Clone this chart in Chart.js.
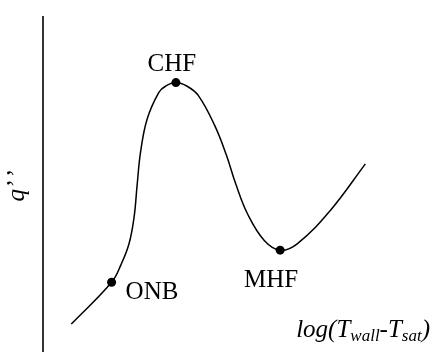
<!DOCTYPE html>
<html>
<head>
<meta charset="utf-8">
<script src="https://cdn.jsdelivr.net/npm/chart.js@4/dist/chart.umd.min.js"></script>
<style>
  body { margin: 0; background: #fff; }
  #wrap { width: 435px; height: 356px; position: relative; }
</style>
</head>
<body>
<div id="wrap"><canvas id="chart1"></canvas></div>
<script>
// boiling curve (arbitrary units 0-100)
var curveX = [7.3, 17.7, 20.1, 22.2, 23.5, 24.3, 25.2, 26.9, 29.9, 31.6, 34.3, 37.2, 40.1, 44.3, 47.3, 49.8, 52.8, 57.1, 61.2, 65.6, 74.1, 83.2];
var curveY = [8.2, 20.7, 25.9, 32.2, 40.1, 49.9, 59.8, 69.6, 77.5, 79.3, 80.4, 79.3, 76.5, 67.6, 58.8, 49.9, 41.1, 33.2, 30.3, 32.2, 42.1, 56.1];

// marked points
var pointNames = ['ONB', 'CHF', 'MHF'];
var pointX = [17.7, 34.3, 61.2];
var pointY = [20.7, 80.4, 30.3];

var yTitle = 'q\u2019\u200A\u2019';
var xTitle = [['log(T', false], ['wall', true], ['-T', false], ['sat', true], [')', false]];

var serif = "'Liberation Serif', 'Times New Roman', serif";

// label offsets from the dot: [dx, dy, align]
var labelPos = {
  ONB: [14, 17, 'left'],
  CHF: [-4, -12, 'center'],
  MHF: [-9, 37, 'center']
};

var textPlugin = {
  id: 'texts',
  afterDatasetsDraw: function(chart) {
    var ctx = chart.ctx;
    var meta = chart.getDatasetMeta(1);
    ctx.save();
    ctx.fillStyle = '#000';
    ctx.font = '25px ' + serif;
    ctx.textBaseline = 'alphabetic';
    meta.data.forEach(function(pt, i) {
      var name = pointNames[i];
      var p = labelPos[name];
      ctx.textAlign = p[2];
      ctx.fillText(name, pt.x + p[0], pt.y + p[1]);
    });

    // x title with subscripts, right aligned
    ctx.textAlign = 'left';
    var total = 0;
    xTitle.forEach(function(part) {
      ctx.font = 'italic ' + (part[1] ? 17 : 25) + 'px ' + serif;
      total += ctx.measureText(part[0]).width;
    });
    var x = chart.width - 5 - total;
    var base = chart.height - 19;
    xTitle.forEach(function(part) {
      ctx.font = 'italic ' + (part[1] ? 17 : 25) + 'px ' + serif;
      ctx.fillText(part[0], x, part[1] ? base + 4 : base);
      x += ctx.measureText(part[0]).width;
    });

    // y title, rotated
    ctx.font = 'italic 25px ' + serif;
    ctx.translate(chart.chartArea.left - 19, 186);
    ctx.rotate(-Math.PI / 2);
    ctx.textAlign = 'center';
    ctx.fillText(yTitle, 0, 0);
    ctx.restore();
  }
};

const ctx1 = document.getElementById('chart1');
const lineChart1 = new Chart(ctx1, {
  type: 'line',
  data: {
    datasets: [{
      data: curveX.map((v, i) => ({ x: v, y: curveY[i] })),
      borderColor: '#000',
      borderWidth: 1.5,
      pointRadius: 0,
      tension: 0.4,
      fill: false
    }, {
      data: pointX.map((v, i) => ({ x: v, y: pointY[i] })),
      showLine: false,
      pointRadius: 4.5,
      pointBackgroundColor: '#000',
      pointBorderColor: '#000',
      pointBorderWidth: 0
    }]
  },
  options: {
    responsive: true,
    maintainAspectRatio: false,
    animation: false,
    layout: { padding: { top: 17, left: 0, right: 0, bottom: 0 } },
    plugins: {
      legend: { display: false },
      tooltip: { enabled: false }
    },
    scales: {
      x: {
        type: 'linear',
        min: 0,
        max: 100,
        display: false
      },
      y: {
        min: 0,
        max: 100,
        ticks: { display: false },
        grid: { display: false },
        border: { display: true, color: '#333', width: 2 },
        afterFit: function(axis) { axis.width = 43; }
      }
    }
  },
  plugins: [textPlugin]
});
</script>
</body>
</html>
